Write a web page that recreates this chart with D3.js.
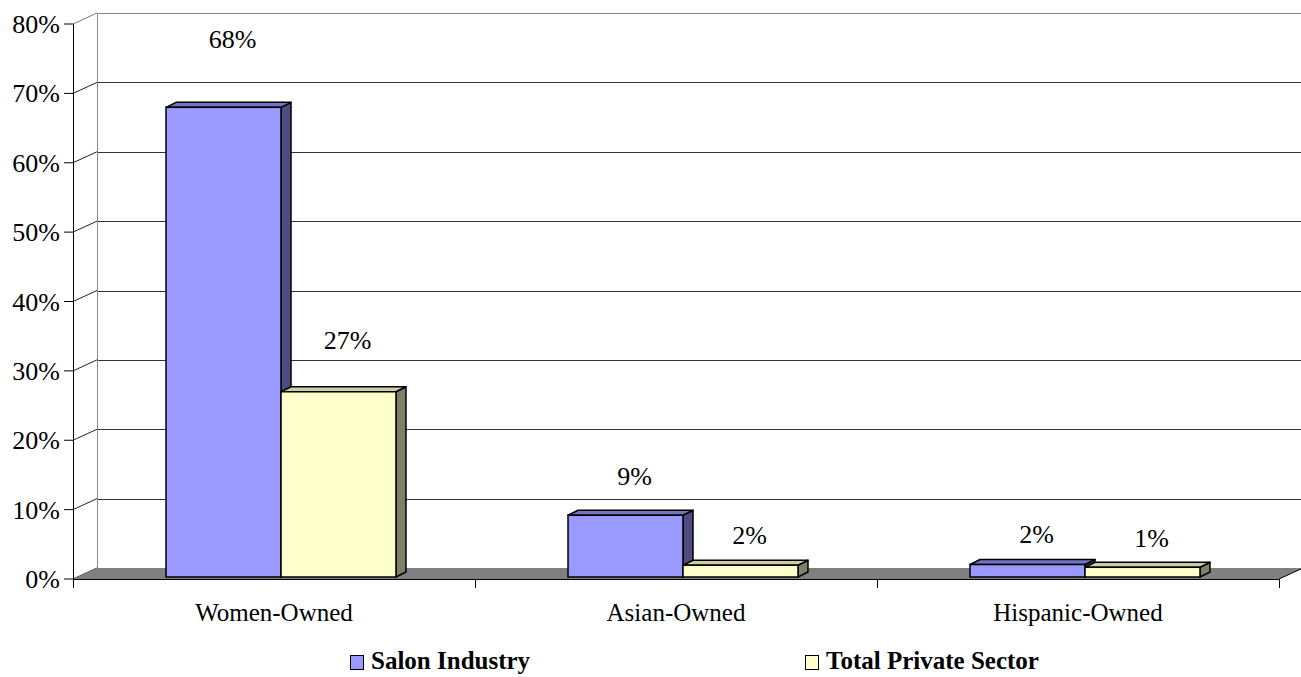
<!DOCTYPE html>
<html>
<head>
<meta charset="utf-8">
<script src="https://d3js.org/d3.v7.min.js"></script>
<style>
  body { margin: 0; background: #fff; }
</style>
</head>
<body>
<div id="chart"></div>
<script>
var categories = ['Women-Owned', 'Asian-Owned', 'Hispanic-Owned'];
var seriesNames = ['Salon Industry', 'Total Private Sector'];
var salonValues = [67.7, 8.9, 1.8];
var privateValues = [26.7, 1.7, 1.4];
var yTicks = [0, 10, 20, 30, 40, 50, 60, 70, 80];

var width = 1301,
    height = 677,
    left = 73,
    right = 1279,
    wallDx = 24, wallDy = 11,   // depth of the back wall
    barDx = 10, barDy = 5,      // depth of each column
    barShiftX = 7, barShiftY = 2, // columns sit a bit behind the front plane
    serif = '"Liberation Serif", "Times New Roman", Times, serif'
;

var colors = {
  'Salon Industry': {front: '#9999ff', top: '#7373c4', side: '#4d4d80'},
  'Total Private Sector': {front: '#ffffcc', top: '#cdcda3', side: '#80806a'}
};

var x0 = d3.scaleBand().domain(categories).range([left, right]);
var x1 = d3.scaleBand().domain(seriesNames).range([0, x0.bandwidth()])
  .paddingInner(0).paddingOuter(0.748);
var y = d3.scaleLinear().domain([0, 80]).range([579, 24]);

var svg = d3.select('#chart').append('svg')
  .attr('width', width)
  .attr('height', height)
  .style('font-family', serif);

// back wall gridlines
svg.append('g').selectAll('line.grid')
  .data(yTicks)
  .enter().append('line')
    .attr('x1', left + wallDx)
    .attr('x2', width)
    .attr('y1', function (d) { return Math.round(y(d) - wallDy) + 0.5; })
    .attr('y2', function (d) { return Math.round(y(d) - wallDy) + 0.5; })
    .attr('stroke', function (d) { return d === 80 ? '#888' : '#333'; })
    .attr('stroke-width', 1);

// left wall back edge
svg.append('line')
  .attr('x1', left + wallDx + 0.5).attr('x2', left + wallDx + 0.5)
  .attr('y1', y(80) - wallDy).attr('y2', y(0) - wallDy)
  .attr('stroke', '#888');

// diagonals from front ticks to back wall
svg.append('g').selectAll('line')
  .data(yTicks)
  .enter().append('line')
    .attr('x1', left).attr('y1', function (d) { return y(d); })
    .attr('x2', left + wallDx).attr('y2', function (d) { return y(d) - wallDy; })
    .attr('stroke', function (d) { return d === 80 ? '#777' : '#222'; })
    .attr('stroke-width', 1);

// floor
svg.append('path')
  .attr('d', 'M' + left + ',' + y(0) +
    'L' + (left + wallDx) + ',' + (y(0) - wallDy) +
    'L' + (right + wallDx) + ',' + (y(0) - wallDy) +
    'L' + right + ',' + y(0) + 'Z')
  .attr('fill', '#808080');
svg.append('line')
  .attr('x1', right).attr('y1', y(0))
  .attr('x2', right + wallDx).attr('y2', y(0) - wallDy)
  .attr('stroke', '#000');

// bars
var seriesData = [salonValues, privateValues];
var bars = [];
categories.forEach(function (c, ci) {
  seriesNames.forEach(function (s, si) {
    bars.push({cat: c, series: s, value: seriesData[si][ci]});
  });
});

var g = svg.append('g').selectAll('g.bar')
  .data(bars)
  .enter().append('g')
    .classed('bar', true);

function barBox(d) {
  var xa = x0(d.cat) + x1(d.series) + barShiftX,
      xb = xa + x1.bandwidth(),
      yb = y(0) - barShiftY,
      yt = y(d.value) - barShiftY;
  return {xa: xa, xb: xb, yb: yb, yt: yt};
}

g.append('path') // side
  .attr('d', function (d) {
    var b = barBox(d);
    return 'M' + b.xb + ',' + b.yt + 'L' + (b.xb + barDx) + ',' + (b.yt - barDy) +
      'L' + (b.xb + barDx) + ',' + (b.yb - barDy) + 'L' + b.xb + ',' + b.yb + 'Z';
  })
  .attr('fill', function (d) { return colors[d.series].side; })
  .attr('stroke', '#000').attr('stroke-width', 1.5).attr('stroke-linejoin', 'round');

g.append('path') // top
  .attr('d', function (d) {
    var b = barBox(d);
    return 'M' + b.xa + ',' + b.yt + 'L' + (b.xa + barDx) + ',' + (b.yt - barDy) +
      'L' + (b.xb + barDx) + ',' + (b.yt - barDy) + 'L' + b.xb + ',' + b.yt + 'Z';
  })
  .attr('fill', function (d) { return colors[d.series].top; })
  .attr('stroke', '#000').attr('stroke-width', 1.5).attr('stroke-linejoin', 'round');

g.append('rect') // front
  .attr('x', function (d) { return barBox(d).xa; })
  .attr('y', function (d) { return barBox(d).yt; })
  .attr('width', x1.bandwidth())
  .attr('height', function (d) { var b = barBox(d); return b.yb - b.yt; })
  .attr('fill', function (d) { return colors[d.series].front; })
  .attr('stroke', '#000').attr('stroke-width', 1.5);

// value labels
g.append('text')
  .attr('x', function (d) { return x0(d.cat) + x1(d.series) + barShiftX + x1.bandwidth() / 2 + 9; })
  .attr('y', function (d) { return barBox(d).yt - (14 + 5.5 * Math.sqrt(d.value)); })
  .attr('text-anchor', 'middle')
  .attr('font-family', serif)
  .attr('font-size', 26)
  .text(function (d) { return Math.round(d.value) + '%'; });

// front axes
svg.append('line')
  .attr('x1', left + 0.5).attr('x2', left + 0.5)
  .attr('y1', y(80)).attr('y2', y(0) + 9)
  .attr('stroke', '#000');
svg.append('line')
  .attr('x1', left).attr('x2', right)
  .attr('y1', y(0) + 0.5).attr('y2', y(0) + 0.5)
  .attr('stroke', '#000');

var yAxis = svg.append('g').selectAll('g.ytick')
  .data(yTicks)
  .enter().append('g')
    .attr('transform', function (d) { return 'translate(0,' + y(d) + ')'; });
yAxis.append('line')
  .attr('x1', left - 9).attr('x2', left)
  .attr('stroke', '#000');
yAxis.append('text')
  .attr('x', 60)
  .attr('dy', '0.35em')
  .attr('text-anchor', 'end')
  .attr('font-family', serif)
  .attr('font-size', 26)
  .text(function (d) { return d + '%'; });

// category ticks and labels
var boundaries = categories.map(function (c) { return x0(c); }).concat([right]);
svg.append('g').selectAll('line')
  .data(boundaries)
  .enter().append('line')
    .attr('x1', function (d) { return Math.round(d) + 0.5; })
    .attr('x2', function (d) { return Math.round(d) + 0.5; })
    .attr('y1', y(0)).attr('y2', y(0) + 9)
    .attr('stroke', '#000');

svg.append('g').selectAll('text')
  .data(categories)
  .enter().append('text')
    .attr('x', function (d) { return x0(d) + x0.bandwidth() / 2; })
    .attr('y', 621)
    .attr('text-anchor', 'middle')
    .attr('font-family', serif)
    .attr('font-size', 25)
    .text(function (d) { return d; });

// legend
var lx = d3.scaleBand().domain(seriesNames).range([350, 1260]);
var leg = svg.append('g').selectAll('g.legend')
  .data(seriesNames)
  .enter().append('g')
    .attr('transform', function (d) { return 'translate(' + lx(d) + ',655)'; });
leg.append('rect')
  .attr('x', 0.5).attr('y', 0.5)
  .attr('width', 13).attr('height', 14)
  .attr('fill', function (d) { return colors[d].front; })
  .attr('stroke', '#000');
leg.append('text')
  .attr('x', 21)
  .attr('y', 14)
  .attr('font-family', serif)
  .attr('font-size', 25)
  .attr('font-weight', 'bold')
  .text(function (d) { return d; });
</script>
</body>
</html>
